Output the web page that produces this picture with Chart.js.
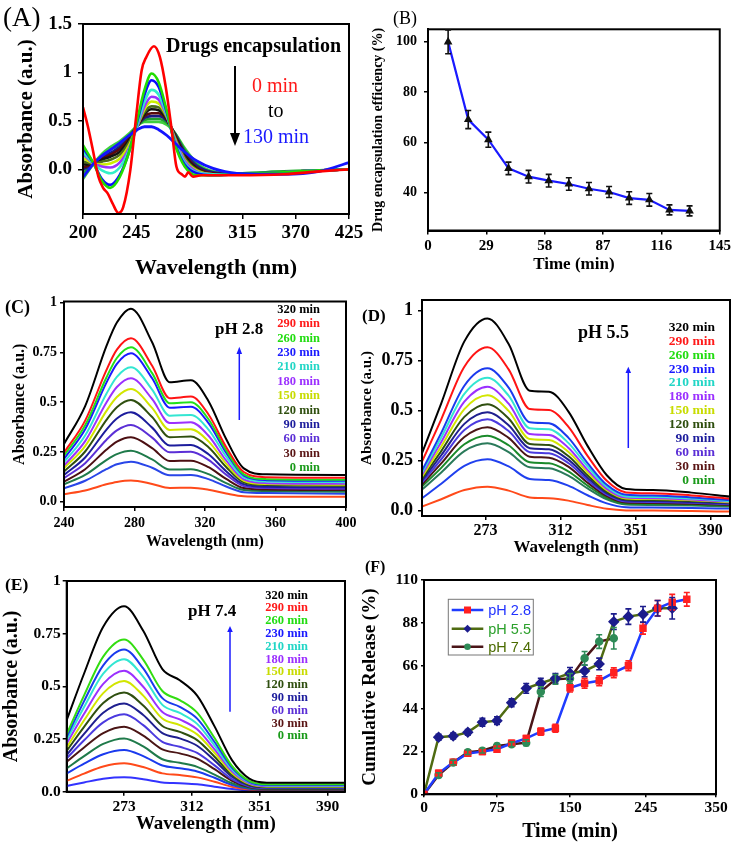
<!DOCTYPE html>
<html><head><meta charset="utf-8">
<script src="https://cdn.jsdelivr.net/npm/chart.js@4.4.0/dist/chart.umd.min.js"></script>
<style>
html,body{margin:0;padding:0;background:#fff;}
#wrap{position:relative;width:734px;height:844px;overflow:hidden;background:#fff;}
canvas{position:absolute;left:0;top:0;}
.t{position:absolute;white-space:nowrap;font-family:'Liberation Serif','Times New Roman',serif;color:#000;line-height:1;transform:translateY(-50%);}
.lg{position:absolute;text-align:right;font-family:'Liberation Serif','Times New Roman',serif;font-weight:bold;white-space:nowrap;}
.fl{position:absolute;white-space:nowrap;font-family:'Liberation Sans',Arial,sans-serif;font-size:14.5px;line-height:1;transform:translateY(-50%);}
svg{position:absolute;left:0;top:0;}
</style></head><body><div id="wrap">
<canvas id="cA" width="734" height="844"></canvas>
<canvas id="cB" width="734" height="844"></canvas>
<canvas id="cC" width="734" height="844"></canvas>
<canvas id="cD" width="734" height="844"></canvas>
<canvas id="cE" width="734" height="844"></canvas>
<canvas id="cF" width="734" height="844"></canvas>
<svg width="734" height="844">
  <line x1="235" y1="66" x2="235" y2="136" stroke="#000" stroke-width="2"/>
  <polygon points="230,133 240,133 235,146" fill="#000"/>
  <line x1="239.3" y1="420" x2="239.3" y2="352" stroke="#1a1aff" stroke-width="1.5"/>
  <polygon points="236.5,354 242.1,354 239.3,346.7" fill="#1a1aff"/>
  <line x1="628.3" y1="448" x2="628.3" y2="372" stroke="#1a1aff" stroke-width="1.5"/>
  <polygon points="625.5,373 631.1,373 628.3,366.7" fill="#1a1aff"/>
  <line x1="230" y1="711.7" x2="230" y2="631" stroke="#1a1aff" stroke-width="1.5"/>
  <polygon points="227.2,632 232.8,632 230,626" fill="#1a1aff"/>
  <rect x="448.3" y="599.3" width="85" height="55.7" fill="#fff" stroke="#777" stroke-width="1"/>
  <line x1="451.7" y1="610" x2="483.3" y2="610" stroke="#1f3cff" stroke-width="2.5"/>
  <rect x="464" y="606.5" width="7" height="7" fill="#ff2020"/>
  <line x1="451.7" y1="628.7" x2="483.3" y2="628.7" stroke="#4f6b12" stroke-width="2.5"/>
  <polygon points="467.5,624.7 471.5,628.7 467.5,632.7 463.5,628.7" fill="#1c1c8c"/>
  <line x1="451.7" y1="646.7" x2="483.3" y2="646.7" stroke="#4a1518" stroke-width="2.5"/>
  <circle cx="467.5" cy="646.7" r="3.3" fill="#2e8b57"/>
</svg>
<div class="t" style="left:3px;top:17px;font-size:27px;">(A)</div>
<div class="t" style="left:393px;top:18px;font-size:18px;">(B)</div>
<div class="t" style="left:5px;top:307px;font-size:18px;font-weight:bold;">(C)</div>
<div class="t" style="left:362px;top:315px;font-size:17px;font-weight:bold;">(D)</div>
<div class="t" style="left:5px;top:585px;font-size:17.5px;font-weight:bold;">(E)</div>
<div class="t" style="left:365px;top:567px;font-size:16px;font-weight:bold;">(F)</div>
<div class="t" style="left:166px;top:45px;font-size:20px;font-weight:bold;">Drugs encapsulation</div>
<div class="t" style="left:252px;top:85px;font-size:20px;color:#ff1a1a;">0 min</div>
<div class="t" style="left:268px;top:110px;font-size:20px;">to</div>
<div class="t" style="left:243px;top:136px;font-size:20px;color:#1a1aff;">130 min</div>
<div class="t" style="left:215px;top:328px;font-size:17px;font-weight:bold;">pH 2.8</div>
<div class="t" style="left:578px;top:332px;font-size:18px;font-weight:bold;">pH 5.5</div>
<div class="t" style="left:188px;top:610px;font-size:17px;font-weight:bold;">pH 7.4</div>
<div class="fl" style="left:488.3px;top:610px;color:#2233ff;">pH 2.8</div>
<div class="fl" style="left:488.3px;top:628.7px;color:#2ca02c;">pH 5.5</div>
<div class="fl" style="left:488.3px;top:646.7px;color:#4b6b00;">pH 7.4</div>
<div id="legC" class="lg" style="right:414px;top:301.8px;font-size:12.5px;line-height:14.4px;"></div>
<div id="legD" class="lg" style="right:19px;top:319.8px;font-size:13.5px;line-height:13.9px;"></div>
<div id="legE" class="lg" style="right:426px;top:588.6px;font-size:12.5px;line-height:12.8px;"></div>
</div>
<script>
// ---------- DATA ----------
// Panel A: absorbance spectra during encapsulation (wavelength nm)
const aWave = [200,209,216,223,231,239,246,252,258,264,271,278,286,296,310,330,370,400,425];
const aRedWave = [200,204,208,213,217,221,225,230,234,240,245,249.6,253.6,260,265,270,275,279,283.5,286.3,289,293,300,330,370,400,425];
const a0min = [0.64,0.45,0.22,-0.075,-0.19,-0.25,-0.35,-0.45,-0.39,-0.01,0.55,1.02,1.16,1.27,1.16,0.85,0.41,0.03,-0.05,-0.075,-0.03,-0.075,-0.06,-0.06,-0.05,-0.02,0];
const aCurve02 = [0.25,0.06,-0.12,-0.19,-0.08,0.18,0.52,0.82,0.99,0.90,0.60,0.25,0.03,-0.06,-0.06,-0.05,-0.03,-0.01,0];
const aCurve03 = [0.22,0.06,-0.10,-0.16,-0.06,0.18,0.50,0.77,0.92,0.85,0.58,0.26,0.05,-0.04,-0.06,-0.05,-0.03,-0.01,0];
const aCurve04 = [0.18,0.06,-0.01,-0.04,0.02,0.20,0.46,0.70,0.82,0.77,0.56,0.28,0.07,-0.03,-0.05,-0.05,-0.03,-0.01,0];
const aCurve05 = [0.16,0.06,0.03,0.02,0.07,0.22,0.45,0.65,0.75,0.72,0.55,0.30,0.09,-0.02,-0.05,-0.05,-0.03,-0.01,0];
const aCurve06 = [0.12,0.06,0.05,0.06,0.11,0.25,0.45,0.62,0.70,0.68,0.54,0.31,0.10,-0.01,-0.05,-0.05,-0.03,-0.01,0];
const aCurve07 = [0.08,0.06,0.08,0.10,0.15,0.28,0.45,0.59,0.65,0.64,0.53,0.33,0.12,0,-0.05,-0.05,-0.03,-0.01,0];
const aCurve08 = [0.05,0.06,0.10,0.13,0.18,0.30,0.45,0.57,0.62,0.61,0.52,0.34,0.14,0.01,-0.05,-0.05,-0.03,-0.01,0];
const aCurve09 = [0.02,0.06,0.11,0.15,0.21,0.32,0.45,0.55,0.58,0.58,0.51,0.35,0.16,0.02,-0.04,-0.05,-0.03,-0.01,0];
const aCurve10 = [0,0.06,0.12,0.17,0.23,0.33,0.45,0.53,0.55,0.55,0.50,0.36,0.18,0.04,-0.03,-0.05,-0.03,-0.01,0];
const aCurve11 = [-0.04,0.06,0.14,0.20,0.26,0.35,0.45,0.51,0.52,0.52,0.48,0.37,0.20,0.05,-0.03,-0.04,-0.02,-0.01,0];
const aCurve12 = [-0.1,0.06,0.16,0.23,0.29,0.37,0.45,0.49,0.49,0.49,0.46,0.37,0.22,0.07,-0.02,-0.04,-0.02,-0.01,0];
const a130min = [-0.08,0.06,0.14,0.20,0.27,0.35,0.41,0.44,0.44,0.41,0.35,0.27,0.18,0.09,0.01,-0.04,-0.05,-0.02,0.07];
const aXTicks = [200,245,290,335,380,425];
const aXLabels = ['200','245','280','315','370','425'];
const aYTicks = [0,0.5,1,1.5];
const aYLabels = ['0.0','0.5','1','1.5'];

// Panel B: drug encapsulation efficiency
const bTime = [10,20,30,40,50,60,70,80,90,100,110,120,130];
const bEff = [100,69.1,61.1,49.7,46.4,44.8,43.5,41.6,40.3,37.9,37.2,33.2,32.8];
const bErr = [4.7,3.6,3,2.5,2.5,2.5,2.5,2.5,2.2,2.5,2.5,2,2];
const bXTicks = [0,29,58,87,116,145];
const bYTicks = [40,60,80,100];

// Panel C: pH 2.8 release spectra
const cWave = [240,252,264,270,278,290,300,312,322,332,342,355,400];
const c01 = [0.29,0.48,0.78,0.90,0.97,0.801,0.60,0.61,0.505,0.315,0.167,0.137,0.134];
const c02 = [0.246,0.407,0.66,0.764,0.821,0.683,0.52,0.528,0.438,0.275,0.149,0.123,0.12];
const c03 = [0.231,0.384,0.623,0.722,0.776,0.646,0.495,0.50,0.414,0.258,0.137,0.113,0.11];
const c04 = [0.215,0.364,0.597,0.693,0.746,0.62,0.472,0.477,0.395,0.246,0.131,0.108,0.105];
const c05 = [0.198,0.332,0.541,0.627,0.675,0.563,0.432,0.436,0.362,0.226,0.122,0.101,0.098];
const c06 = [0.181,0.304,0.497,0.576,0.62,0.516,0.395,0.399,0.331,0.207,0.112,0.093,0.09];
const c07 = [0.168,0.279,0.455,0.526,0.566,0.471,0.36,0.364,0.303,0.191,0.105,0.088,0.085];
const c08 = [0.151,0.252,0.41,0.475,0.511,0.425,0.324,0.327,0.273,0.174,0.097,0.083,0.08];
const c09 = [0.134,0.222,0.361,0.418,0.449,0.372,0.282,0.285,0.238,0.153,0.087,0.075,0.072];
const c10 = [0.118,0.193,0.31,0.358,0.385,0.322,0.248,0.251,0.21,0.136,0.078,0.068,0.065];
const c11 = [0.10,0.163,0.261,0.302,0.324,0.269,0.204,0.206,0.173,0.114,0.068,0.061,0.058];
const c12 = [0.087,0.134,0.209,0.239,0.256,0.212,0.161,0.163,0.138,0.093,0.058,0.053,0.05];
const c13 = [0.067,0.105,0.163,0.188,0.201,0.17,0.132,0.134,0.113,0.076,0.047,0.043,0.04];
const c14 = [0.037,0.056,0.087,0.099,0.106,0.089,0.069,0.07,0.06,0.041,0.027,0.025,0.024];
const cXTicks = [240,280,320,360,400];

// Panel D: pH 5.5 release spectra
const dWave = [240,250,262,274,285,296,306,316,326,336,346,360,380,400];
const d01 = [0.287,0.537,0.847,0.962,0.834,0.60,0.595,0.497,0.324,0.177,0.108,0.103,0.09,0.07];
const d02 = [0.245,0.457,0.72,0.817,0.707,0.508,0.503,0.42,0.274,0.149,0.091,0.087,0.076,0.06];
const d03 = [0.20,0.389,0.625,0.712,0.616,0.442,0.437,0.365,0.238,0.129,0.079,0.075,0.066,0.052];
const d04 = [0.19,0.366,0.584,0.665,0.575,0.412,0.407,0.339,0.221,0.119,0.071,0.068,0.06,0.048];
const d05 = [0.18,0.343,0.545,0.62,0.535,0.383,0.378,0.315,0.204,0.109,0.065,0.062,0.055,0.045];
const d06 = [0.17,0.321,0.508,0.577,0.499,0.358,0.353,0.294,0.191,0.102,0.061,0.058,0.052,0.042];
const d07 = [0.16,0.298,0.469,0.532,0.461,0.333,0.328,0.273,0.177,0.094,0.056,0.053,0.048,0.04];
const d08 = [0.15,0.277,0.434,0.492,0.427,0.312,0.307,0.255,0.165,0.087,0.051,0.048,0.043,0.035];
const d09 = [0.14,0.257,0.403,0.457,0.398,0.292,0.287,0.238,0.153,0.08,0.045,0.043,0.039,0.032];
const d10 = [0.13,0.236,0.368,0.417,0.364,0.27,0.265,0.22,0.14,0.072,0.04,0.038,0.034,0.028];
const d11 = [0.12,0.214,0.332,0.375,0.327,0.242,0.237,0.196,0.125,0.064,0.035,0.033,0.03,0.025];
const d12 = [0.105,0.191,0.298,0.337,0.293,0.217,0.212,0.175,0.111,0.056,0.03,0.028,0.025,0.02];
const d13 = [0.062,0.134,0.224,0.257,0.221,0.158,0.153,0.125,0.077,0.036,0.017,0.015,0.013,0.01];
const d14 = [0.02,0.057,0.103,0.12,0.10,0.066,0.062,0.05,0.028,0.009,0.001,0,-0.002,-0.005];
const dXTicks = [273,312,351,390];

// Panel E: pH 7.4 release spectra
const eWave = [240,250,261,273,284,295,305,315,325,335,345,355,400];
const e01 = [0.34,0.561,0.783,0.88,0.764,0.582,0.529,0.456,0.31,0.15,0.062,0.043,0.043];
const e02 = [0.273,0.457,0.641,0.722,0.627,0.478,0.435,0.375,0.255,0.123,0.051,0.035,0.035];
const e03 = [0.26,0.43,0.60,0.675,0.585,0.444,0.403,0.347,0.236,0.114,0.047,0.032,0.032];
const e04 = [0.245,0.402,0.56,0.629,0.545,0.412,0.374,0.322,0.219,0.106,0.044,0.03,0.03];
const e05 = [0.229,0.37,0.512,0.574,0.498,0.378,0.343,0.296,0.201,0.097,0.04,0.027,0.027];
const e06 = [0.21,0.339,0.468,0.525,0.456,0.347,0.316,0.272,0.185,0.089,0.037,0.025,0.025];
const e07 = [0.194,0.308,0.421,0.471,0.409,0.312,0.284,0.245,0.166,0.08,0.032,0.022,0.022];
const e08 = [0.174,0.274,0.375,0.419,0.364,0.278,0.253,0.218,0.148,0.071,0.029,0.02,0.02];
const e09 = [0.158,0.244,0.329,0.367,0.316,0.236,0.213,0.184,0.125,0.06,0.025,0.017,0.017];
const e10 = [0.142,0.21,0.278,0.308,0.266,0.201,0.182,0.157,0.107,0.052,0.022,0.015,0.015];
const e11 = [0.111,0.169,0.227,0.253,0.215,0.154,0.137,0.118,0.081,0.04,0.017,0.012,0.012];
const e12 = [0.087,0.133,0.178,0.198,0.169,0.124,0.111,0.096,0.066,0.032,0.014,0.01,0.01];
const e13 = [0.052,0.086,0.12,0.135,0.117,0.087,0.079,0.068,0.047,0.023,0.01,0.007,0.007];
const e14 = [0.027,0.044,0.061,0.068,0.059,0.044,0.04,0.035,0.024,0.013,0.006,0.005,0.005];
const specYTicks = [0,0.25,0.5,0.75,1];
const specYLabels = ['0.0','0.25','0.5','0.75','1'];

// Panel F: cumulative release
const fTime = [0,15,30,45,60,75,90,105,120,135,150,165,180,195,210,225,240,255,270];
const fPH28 = [0,10.8,16.4,21.0,21.9,23.1,26.2,28.7,32.2,33.9,54.7,57.0,58.3,62.4,66.0,85.2,95.5,98.6,100.1];
const fPH28Err = [0,1.5,1.5,1.5,1.5,1.5,1.5,1.5,1.8,2,2.2,2.5,2.5,2.5,2.5,3,4,4,3.5];
const fPH55 = [0,29.3,29.9,31.8,37.0,37.8,47.0,54.4,57.0,59.5,62.1,63.3,66.9,88.6,91.2,92.4,95.5,95.5];
const fPH55Err = [0,1.5,1.5,1.5,2,2,2,2.5,2.5,2.5,3,3,3,4,4,4,4,5.5];
const fPH74 = [0,9.9,16.3,21.6,22.4,24.8,25.7,26.5,52.7,59.0,59.5,69.8,78.4,80.1];
const fPH74Err = [0,1.2,1.2,1.2,1.2,1.2,1.2,1.5,2.5,2.5,2.5,3.5,3.5,5.5];
const fXTicks = [0,75,150,228,300];
const fXLabels = ['0','75','150','245','350'];
const fYTicks = [0,22,44,66,88,110];

// Legend text lists
const timeLabels = ['320 min','290 min','260 min','230 min','210 min','180 min','150 min','120 min','90 min','60 min','30 min','0 min'];
const timeColors = ['#000000','#ff1a1a','#22dd11','#1a1aff','#22d6c6','#9b30ff','#c8dc00','#2f4f0f','#1c1c9c','#5b2fd6','#5a1515','#1a9a1a'];

// ---------- STYLE ----------
const SERIF = "'Liberation Serif', 'Times New Roman', serif";
const aColors = ['#ff0000','#1414ff','#22dd00','#0a0aff','#33f0c8','#9933ff','#ccee00','#4d6b1a','#111111','#5c0a0a','#1a1a80','#1f9f2f','#3fcf3f'];
const cColors = ['#000000','#ff1414','#22e01a','#1a1aff','#33e6d2','#9b30ff','#d2e600','#2f4f0f','#1c1c9c','#5b2fd6','#4b0f12','#1f7a4a','#2946e8','#ff4a1a'];
const dColors = ['#000000','#ff1414','#1a3aee','#33e6d2','#9b30ff','#d2e600','#2f4f0f','#1f1f8f','#4b3adf','#4a1515','#1a8a2a','#2a7a5a','#2040ee','#ff4a1a'];
const eColors = ['#000000','#33dd11','#1a3aee','#33e6d2','#9b30ff','#d2e600','#2f4f0f','#1f1f8f','#4b3adf','#4a1515','#1f7a4a','#1a3aee','#ff4a1a','#3333ff'];

function buildLegend(id){
  const el = document.getElementById(id);
  timeLabels.forEach((t,i)=>{ const d=document.createElement('div'); d.textContent=t; d.style.color=timeColors[i]; el.appendChild(d); });
}
buildLegend('legC'); buildLegend('legD'); buildLegend('legE');

const framePlugin = {
  id:'frame',
  afterDatasetsDraw(chart){
    const {ctx, chartArea:a} = chart;
    ctx.save(); ctx.strokeStyle='#000'; ctx.lineWidth=2;
    ctx.strokeRect(a.left, a.top, a.right-a.left, a.bottom-a.top);
    ctx.restore();
  }
};
const errorBarPlugin = {
  id:'errbars',
  afterDatasetsDraw(chart){
    const {ctx} = chart; const xs = chart.scales.x, ys = chart.scales.y;
    chart.data.datasets.forEach(ds=>{
      if(!ds.errors) return;
      ctx.save(); ctx.strokeStyle = ds.errorColor; ctx.lineWidth = 1.6;
      ds.data.forEach((p,i)=>{
        const e = ds.errors[i]; if(!e) return;
        const px = xs.getPixelForValue(p.x), y1 = ys.getPixelForValue(p.y+e), y2 = ys.getPixelForValue(p.y-e);
        ctx.beginPath();
        ctx.moveTo(px,y1); ctx.lineTo(px,y2);
        ctx.moveTo(px-3,y1); ctx.lineTo(px+3,y1);
        ctx.moveTo(px-3,y2); ctx.lineTo(px+3,y2);
        ctx.stroke();
      });
      ctx.restore();
    });
  }
};

function spec(xs, ys, color, w){
  return {data: ys.map((y,i)=>({x:xs[i], y})), borderColor: color, borderWidth: w, pointRadius: 0, fill:false, cubicInterpolationMode:'monotone'};
}

function axis(o, isX, area){
  const ticksV = isX ? o.xTicks : o.yTicks;
  const labels = isX ? (o.xLabels || o.xTicks.map(String)) : (o.yLabels || o.yTicks.map(String));
  return {
    type:'linear', min: isX?o.xMin:o.yMin, max: isX?o.xMax:o.yMax,
    afterFit: s => { if(isX) s.height = area.H; else s.width = area.W; },
    afterBuildTicks: s => { s.ticks = ticksV.map(v=>({value:v})); },
    ticks: {autoSkip:false, maxRotation:0, color:'#000', padding: isX?o.xPad:o.yPad,
      font:{family:SERIF, weight:'bold', size: isX?(o.xTickSize||o.tickSize):(o.yTickSize||o.tickSize)},
      callback: (v,i) => labels[i]},
    grid: {display:true, drawOnChartArea:false, drawTicks:true, tickLength: isX?o.xTickLen:o.yTickLen, color:'#000', lineWidth:1.5},
    border: {display:true, color:'#000', width:2},
    title: {display:true, text: isX?o.xTitle:o.yTitle, color:'#000', padding:0,
      font:{family:SERIF, weight:'bold', size: isX?o.xTitleSize:o.yTitleSize}}
  };
}

function makePanel(id, area, o){
  const padding = {left: area.L-area.W, top: area.T, right: 734-area.R, bottom: Math.max(0, 844-area.B-area.H)};
  return new Chart(document.getElementById(id), {
    type:'line',
    data:{datasets:o.datasets},
    options:{
      responsive:false, animation:false, events:[],
      layout:{padding},
      plugins:{legend:{display:false}, tooltip:{enabled:false}},
      scales:{x: axis(o,true,area), y: axis(o,false,area)}
    },
    plugins:[framePlugin, errorBarPlugin]
  });
}

// ---------- PANEL A ----------
const aData = [aCurve02,aCurve03,aCurve04,aCurve05,aCurve06,aCurve07,aCurve08,aCurve09,aCurve10,aCurve11,aCurve12];
makePanel('cA', {L:83,T:24,R:349,B:214,W:68.6,H:67.2}, {
  datasets: [spec(aRedWave,a0min,aColors[0],2.6), spec(aWave,a130min,aColors[1],2.8)]
    .concat(aData.map((d,i)=>spec(aWave,d,aColors[i+2],2.6))),
  xMin:200, xMax:425, xTicks:aXTicks, xLabels:aXLabels,
  yMin:-0.46, yMax:1.5, yTicks:aYTicks, yLabels:aYLabels,
  tickSize:19, xTickLen:5, yTickLen:5, xPad:3, yPad:6,
  xTitle:'Wavelength (nm)', xTitleSize:22, yTitle:'Absorbance (a.u.)', yTitleSize:21
});

// ---------- PANEL B ----------
makePanel('cB', {L:428,T:29.3,R:720.7,B:230.5,W:57.8,H:44.7}, {
  datasets: [{data: bEff.map((v,i)=>({x:bTime[i], y:v})), borderColor:'#1a1aff', borderWidth:2.2,
    pointStyle:'triangle', pointRadius:2.8, pointBackgroundColor:'#111', pointBorderColor:'#111', tension:0,
    errors:bErr, errorColor:'#111'}],
  xMin:0, xMax:145, xTicks:bXTicks, yMin:25, yMax:105, yTicks:bYTicks,
  xTickSize:15, yTickSize:14, xTickLen:4, yTickLen:4, xPad:3, yPad:7,
  xTitle:'Time (min)', xTitleSize:17, yTitle:'Drug encapsulation efficiency (%)', yTitleSize:14
});

// ---------- PANEL C ----------
const cData = [c01,c02,c03,c04,c05,c06,c07,c08,c09,c10,c11,c12,c13,c14];
makePanel('cC', {L:64,T:301.5,R:346,B:507,W:53.6,H:44.6}, {
  datasets: cData.map((d,i)=>spec(cWave,d,cColors[i],2)),
  xMin:240, xMax:400, xTicks:cXTicks, yMin:-0.027, yMax:1.006, yTicks:specYTicks, yLabels:specYLabels,
  tickSize:14, xTickLen:4, yTickLen:4, xPad:4, yPad:3,
  xTitle:'Wavelength (nm)', xTitleSize:16, yTitle:'Absorbance (a.u.)', yTitleSize:16
});

// ---------- PANEL D ----------
const dData = [d01,d02,d03,d04,d05,d06,d07,d08,d09,d10,d11,d12,d13,d14];
makePanel('cD', {L:422,T:300,R:730,B:516,W:63.7,H:42.2}, {
  datasets: dData.map((d,i)=>spec(dWave,d,dColors[i],2)),
  xMin:240, xMax:400, xTicks:dXTicks, yMin:-0.027, yMax:1.054, yTicks:specYTicks, yLabels:specYLabels,
  xTickSize:16, yTickSize:18, xTickLen:4, yTickLen:4, xPad:1, yPad:5,
  xTitle:'Wavelength (nm)', xTitleSize:17, yTitle:'Absorbance (a.u.)', yTitleSize:15
});

// ---------- PANEL E ----------
const eData = [e01,e02,e03,e04,e05,e06,e07,e08,e09,e10,e11,e12,e13,e14];
makePanel('cE', {L:66.7,T:581,R:345,B:791.7,W:66.7,H:43.7}, {
  datasets: eData.map((d,i)=>spec(eWave,d,eColors[i],2)),
  xMin:240, xMax:400, xTicks:dXTicks, yMin:0, yMax:1, yTicks:specYTicks, yLabels:specYLabels,
  tickSize:15.5, xTickLen:4, yTickLen:4, xPad:2, yPad:2,
  xTitle:'Wavelength (nm)', xTitleSize:19, yTitle:'Absorbance (a.u.)', yTitleSize:20
});

// ---------- PANEL F ----------
function rel(vals, errs, line, mk, style, r){
  return {data: vals.map((v,i)=>({x:fTime[i], y:v})), borderColor:line, borderWidth:2.5, tension:0,
    pointStyle:style, pointRadius:r, pointBackgroundColor:mk, pointBorderColor:mk, errors:errs, errorColor:mk};
}
makePanel('cF', {L:424,T:580,R:716,B:794.3,W:65.4,H:49.7}, {
  datasets: [rel(fPH28,fPH28Err,'#1f3cff','#ff2020','rect',3.5),
             rel(fPH55,fPH55Err,'#4f6b12','#1c1c8c','rectRot',4),
             rel(fPH74,fPH74Err,'#4a1518','#2e8b57','circle',3)],
  xMin:0, xMax:300, xTicks:fXTicks, xLabels:fXLabels, yMin:0, yMax:110, yTicks:fYTicks,
  tickSize:15.5, xTickLen:3, yTickLen:3, xPad:1, yPad:3,
  xTitle:'Time (min)', xTitleSize:20, yTitle:'Cumulative Release (%)', yTitleSize:19
});
</script>
</body></html>
